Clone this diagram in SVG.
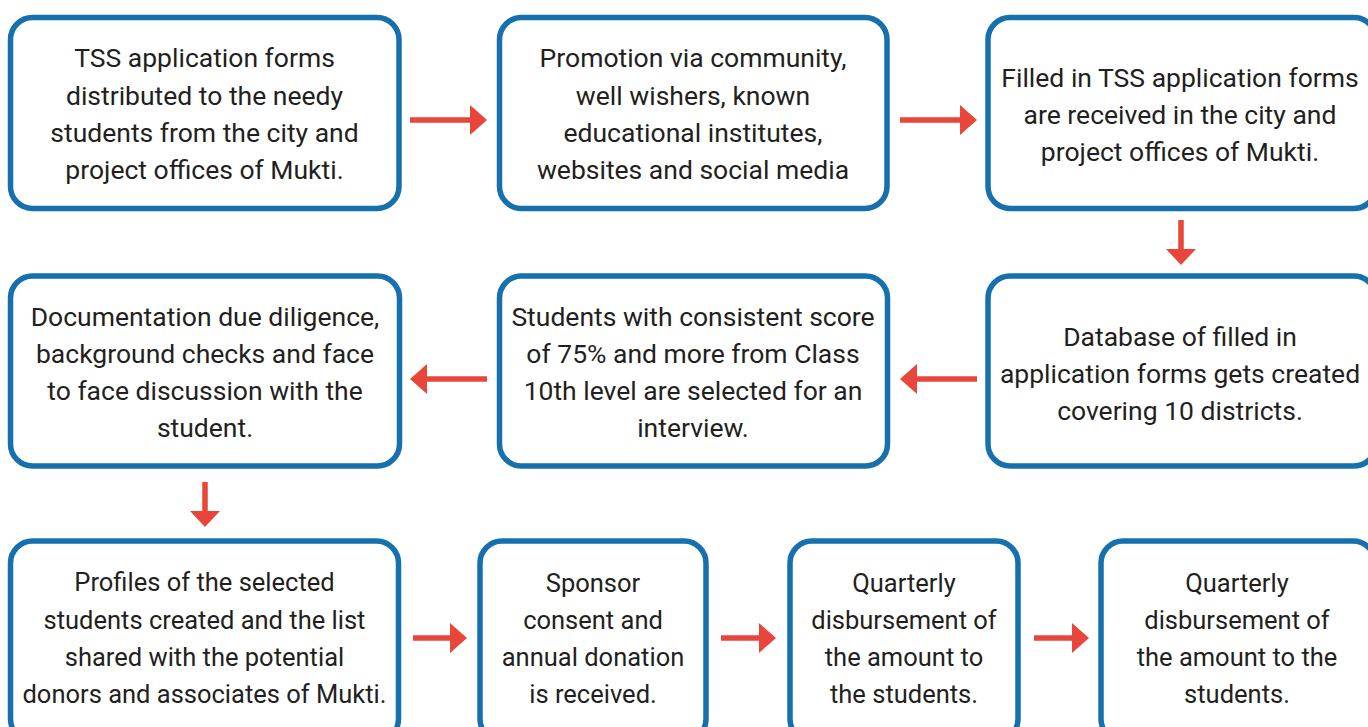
<svg xmlns="http://www.w3.org/2000/svg" width="1368" height="727" viewBox="0 0 1368 727">
<defs>
<style>
.box{fill:#ffffff;stroke:#1570ad;stroke-width:5.5}
.t{font-family:Roboto,"Liberation Sans",sans-serif;font-size:26.5px;fill:#231f20;text-anchor:middle}
.b{font-size:25.5px}
.sh{stroke:#e8463a;stroke-width:5.5;fill:none}
.hd{fill:#e8463a}
</style>
</defs>
<rect width="1368" height="727" fill="#ffffff"/>
<g id="connectors">
<g id="c1"><line class="sh" x1="410" y1="120" x2="472" y2="120"/><polygon class="hd" points="470,105 487,120 470,135"/></g>
<g id="c2"><line class="sh" x1="900" y1="120" x2="962" y2="120"/><polygon class="hd" points="960,105 977,120 960,135"/></g>
<g id="c3"><line class="sh" x1="1181" y1="220" x2="1181" y2="251"/><polygon class="hd" points="1166,249 1196,249 1181,265"/></g>
<g id="c4"><line class="sh" x1="977" y1="379" x2="915" y2="379"/><polygon class="hd" points="917,364 900,379 917,394"/></g>
<g id="c5"><line class="sh" x1="487" y1="379" x2="425" y2="379"/><polygon class="hd" points="427,364 410,379 427,394"/></g>
<g id="c6"><line class="sh" x1="205" y1="482" x2="205" y2="514"/><polygon class="hd" points="190,511 220,511 205,527"/></g>
<g id="c7"><line class="sh" x1="413" y1="638" x2="452" y2="638"/><polygon class="hd" points="450,623 467,638 450,653"/></g>
<g id="c8"><line class="sh" x1="721" y1="638" x2="761" y2="638"/><polygon class="hd" points="759,623 776,638 759,653"/></g>
<g id="c9"><line class="sh" x1="1034" y1="638" x2="1074" y2="638"/><polygon class="hd" points="1072,623 1089,638 1072,653"/></g>
</g>
<g id="n1"><rect class="box" x="10.5" y="17.5" width="388.5" height="191" rx="22"/>
<text class="t"><tspan x="204.5" y="67">TSS application forms</tspan><tspan x="204.5" y="104.5">distributed to the needy</tspan><tspan x="204.5" y="142">students from the city and</tspan><tspan x="204.5" y="179">project offices of Mukti.</tspan></text></g>
<g id="n2"><rect class="box" x="499.5" y="17.5" width="387.5" height="191" rx="22"/>
<text class="t"><tspan x="693" y="67">Promotion via community,</tspan><tspan x="693" y="104.5">well wishers, known</tspan><tspan x="693" y="142">educational institutes,</tspan><tspan x="693" y="179">websites and social media</tspan></text></g>
<g id="n3"><rect class="box" x="988" y="17.5" width="388" height="191" rx="22"/>
<text class="t"><tspan x="1180" y="87">Filled in TSS application forms</tspan><tspan x="1180" y="124">are received in the city and</tspan><tspan x="1180" y="161">project offices of Mukti.</tspan></text></g>
<g id="n4"><rect class="box" x="988" y="276" width="388" height="190" rx="22"/>
<text class="t"><tspan x="1180" y="346">Database of filled in</tspan><tspan x="1180" y="383">application forms gets created</tspan><tspan x="1180" y="420">covering 10 districts.</tspan></text></g>
<g id="n5"><rect class="box" x="499.5" y="276" width="388" height="190" rx="22"/>
<text class="t"><tspan x="693" y="326">Students with consistent score</tspan><tspan x="693" y="363">of 75% and more from Class</tspan><tspan x="693" y="400">10th level are selected for an</tspan><tspan x="693" y="437">interview.</tspan></text></g>
<g id="n6"><rect class="box" x="10.5" y="276" width="389" height="190" rx="22"/>
<text class="t"><tspan x="205" y="326">Documentation due diligence,</tspan><tspan x="205" y="363">background checks and face</tspan><tspan x="205" y="400">to face discussion with the</tspan><tspan x="205" y="437">student.</tspan></text></g>
<g id="n7"><rect class="box" x="10.5" y="541" width="388" height="200" rx="22"/>
<text class="t b"><tspan x="204.5" y="591">Profiles of the selected</tspan><tspan x="204.5" y="628.5">students created and the list</tspan><tspan x="204.5" y="666">shared with the potential</tspan><tspan x="204.5" y="703">donors and associates of Mukti.</tspan></text></g>
<g id="n8"><rect class="box" x="480" y="541" width="226" height="200" rx="22"/>
<text class="t b"><tspan x="593" y="592">Sponsor</tspan><tspan x="593" y="629">consent and</tspan><tspan x="593" y="666">annual donation</tspan><tspan x="593" y="703">is received.</tspan></text></g>
<g id="n9"><rect class="box" x="790" y="541" width="228" height="200" rx="22"/>
<text class="t b"><tspan x="904" y="592">Quarterly</tspan><tspan x="904" y="629">disbursement of</tspan><tspan x="904" y="666">the amount to</tspan><tspan x="904" y="703">the students.</tspan></text></g>
<g id="n10"><rect class="box" x="1101" y="541" width="274" height="200" rx="22"/>
<text class="t b"><tspan x="1237" y="592">Quarterly</tspan><tspan x="1237" y="629">disbursement of</tspan><tspan x="1237" y="666">the amount to the</tspan><tspan x="1237" y="703">students.</tspan></text></g>
</svg>
